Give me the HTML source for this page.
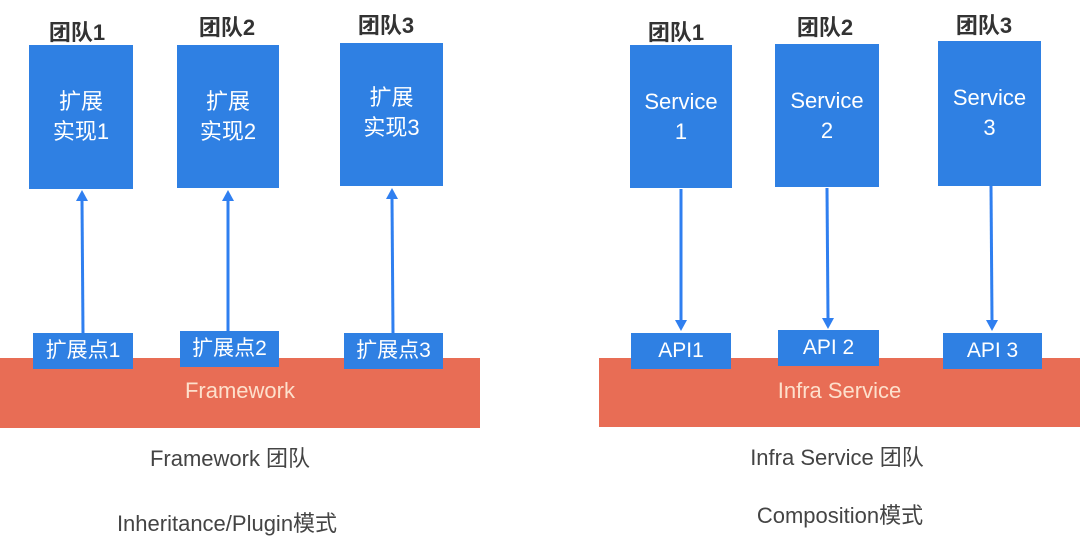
<!DOCTYPE html>
<html><head><meta charset="utf-8"><style>
body{margin:0;width:1080px;height:549px;background:#fff;position:relative;overflow:hidden;font-family:"Liberation Sans","Noto Sans CJK SC",sans-serif;}
.a{position:absolute;}
.box{position:absolute;background:#2f80e3;color:#fff;font-size:22px;text-align:center;line-height:30px;box-sizing:border-box;}
.red{position:absolute;background:#e86d55;}
.t{position:absolute;font-size:22px;color:#333;white-space:nowrap;transform:translateX(-50%);font-weight:bold;}
.b{position:absolute;font-size:22px;color:#444;white-space:nowrap;transform:translateX(-50%);}
.pt{position:absolute;background:#2f80e3;color:#fff;font-size:21px;text-align:center;line-height:36px;height:36px;}
</style></head><body>
<div class="red" style="left:0;top:358px;width:480px;height:70px;"></div>
<div class="red" style="left:599px;top:358px;width:481px;height:69px;"></div>
<div class="a" style="left:0;width:480px;top:378px;text-align:center;font-size:22px;color:#fde0cc;">Framework</div>
<div class="a" style="left:599px;width:481px;top:378px;text-align:center;font-size:22px;color:#fde0cc;">Infra Service</div>

<div class="t" style="left:77px;top:15px;">团队1</div>
<div class="t" style="left:227px;top:10px;">团队2</div>
<div class="t" style="left:386px;top:8px;">团队3</div>
<div class="t" style="left:676px;top:15px;">团队1</div>
<div class="t" style="left:825px;top:10px;">团队2</div>
<div class="t" style="left:984px;top:8px;">团队3</div>

<div class="box" style="left:29px;top:45px;width:104px;height:144px;padding-top:42px;">扩展<br>实现1</div>
<div class="box" style="left:177px;top:45px;width:102px;height:143px;padding-top:42px;">扩展<br>实现2</div>
<div class="box" style="left:340px;top:43px;width:103px;height:143px;padding-top:40px;">扩展<br>实现3</div>
<div class="box" style="left:630px;top:45px;width:102px;height:143px;padding-top:42px;">Service<br>1</div>
<div class="box" style="left:775px;top:44px;width:104px;height:143px;padding-top:42px;">Service<br>2</div>
<div class="box" style="left:938px;top:41px;width:103px;height:145px;padding-top:42px;">Service<br>3</div>

<svg class="a" style="left:0;top:0" width="1080" height="549">
<g stroke="#2f7ff0" stroke-width="3" fill="#2f7ff0">
<line x1="82" y1="200" x2="83" y2="334"/><polygon points="76,201 82,190 88,201" stroke="none"/>
<line x1="228" y1="200" x2="228" y2="332"/><polygon points="222,201 228,190 234,201" stroke="none"/>
<line x1="392" y1="198" x2="393" y2="334"/><polygon points="386,199 392,188 398,199" stroke="none"/>
<line x1="681" y1="189" x2="681" y2="320"/><polygon points="675,320 681,331 687,320" stroke="none"/>
<line x1="827" y1="188" x2="828" y2="318"/><polygon points="822,318 828,329 834,318" stroke="none"/>
<line x1="991" y1="186" x2="992" y2="320"/><polygon points="986,320 992,331 998,320" stroke="none"/>
</g></svg>

<div class="pt" style="left:33px;top:333px;width:100px;">扩展点1</div>
<div class="pt" style="left:180px;top:331px;width:99px;">扩展点2</div>
<div class="pt" style="left:344px;top:333px;width:99px;">扩展点3</div>
<div class="pt" style="left:631px;top:333px;width:100px;">API1</div>
<div class="pt" style="left:778px;top:330px;width:101px;">API 2</div>
<div class="pt" style="left:943px;top:333px;width:99px;">API 3</div>

<div class="b" style="left:230px;top:441px;">Framework 团队</div>
<div class="b" style="left:227px;top:506px;">Inheritance/Plugin模式</div>
<div class="b" style="left:837px;top:440px;">Infra Service 团队</div>
<div class="b" style="left:840px;top:498px;">Composition模式</div>
</body></html>
